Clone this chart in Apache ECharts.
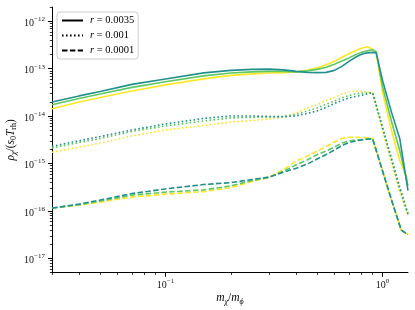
<!DOCTYPE html>
<html><head><meta charset="utf-8">
<script src="https://cdn.jsdelivr.net/npm/echarts@6/dist/echarts.min.js"></script>
<style>html,body{margin:0;padding:0;background:#fff}#c{width:415px;height:310px}</style>
</head><body><div id="c"></div>
<script>
// ---- data ----
const xSolid  = [0.03,0.04,0.05,0.07,0.1,0.15,0.2,0.25,0.3,0.35,0.4,0.45,0.5,0.55,0.6,0.65,0.7,0.75,0.8,0.85,0.9,0.935,1.0,1.1,1.2,1.31];
const solidYellow = [1.43e-14,1.99e-14,2.48e-14,3.40e-14,4.56e-14,6.10e-14,7.23e-14,7.78e-14,8.09e-14,8.25e-14,8.58e-14,9.22e-14,1.04e-13,1.21e-13,1.43e-13,1.74e-13,2.06e-13,2.38e-13,2.69e-13,2.89e-13,2.56e-13,2.16e-13,3.16e-14,4.98e-15,1.16e-15,4.38e-16];
const solidGreen  = [1.74e-14,2.36e-14,2.94e-14,4.04e-14,5.32e-14,7.06e-14,8.09e-14,8.58e-14,8.78e-14,8.78e-14,8.58e-14,9.00e-14,9.68e-14,1.07e-13,1.24e-13,1.46e-13,1.69e-13,1.96e-13,2.21e-13,2.38e-13,2.50e-13,2.27e-13,4.24e-14,7.72e-15,1.88e-15,3.43e-16];
const solidTeal   = [1.99e-14,2.67e-14,3.32e-14,4.67e-14,6.07e-14,8.17e-14,9.22e-14,9.68e-14,9.78e-14,9.45e-14,8.78e-14,8.37e-14,8.25e-14,8.37e-14,9.22e-14,1.12e-13,1.43e-13,1.74e-13,2.01e-13,2.16e-13,2.21e-13,2.16e-13,5.67e-14,1.20e-14,3.38e-15,2.69e-16];

const xDotted = [0.03,0.04,0.05,0.07,0.1,0.15,0.2,0.25,0.3,0.35,0.4,0.45,0.5,0.55,0.6,0.65,0.7,0.75,0.8,0.85,0.9,1.0,1.1,1.2,1.31];
const dottedYellow = [1.73e-15,2.23e-15,2.71e-15,3.81e-15,5.11e-15,6.36e-15,7.53e-15,8.10e-15,8.72e-15,9.61e-15,1.17e-14,1.49e-14,1.77e-14,2.14e-14,2.48e-14,2.94e-14,3.24e-14,3.35e-14,3.32e-14,3.24e-14,3.09e-14,4.75e-15,1.00e-15,2.56e-16,7.98e-17];
const dottedGreen  = [2.13e-15,2.78e-15,3.38e-15,4.75e-15,6.20e-15,7.91e-15,9.15e-15,9.38e-15,9.61e-15,9.84e-15,1.09e-14,1.29e-14,1.49e-14,1.77e-14,2.09e-14,2.42e-14,2.73e-14,2.94e-14,3.06e-14,3.09e-14,3.09e-14,5.49e-15,1.16e-15,2.83e-16,8.38e-17];
const dottedTeal   = [2.31e-15,3.03e-15,3.72e-15,5.11e-15,6.84e-15,8.93e-15,1.01e-14,1.01e-14,9.84e-15,9.70e-15,1.01e-14,1.14e-14,1.29e-14,1.53e-14,1.85e-14,2.14e-14,2.42e-14,2.60e-14,2.73e-14,2.94e-14,3.16e-14,5.85e-15,1.28e-15,3.19e-16,8.80e-17];

const xDashed = [0.03,0.04,0.05,0.07,0.1,0.15,0.2,0.25,0.3,0.35,0.4,0.45,0.5,0.55,0.6,0.65,0.7,0.75,0.8,0.85,0.9,1.0,1.1,1.22,1.31];
const dashedYellow = [1.15e-16,1.33e-16,1.54e-16,1.96e-16,2.27e-16,2.56e-16,3.12e-16,4.17e-16,5.19e-16,7.48e-16,1.13e-15,1.44e-15,1.84e-15,2.29e-15,2.85e-15,3.38e-15,3.60e-15,3.60e-15,3.55e-15,3.49e-15,3.43e-15,6.98e-16,1.70e-16,3.94e-17,3.17e-17];
const dashedGreen  = [1.15e-16,1.36e-16,1.62e-16,2.16e-16,2.50e-16,2.79e-16,3.38e-16,4.38e-16,5.07e-16,6.95e-16,9.40e-16,1.19e-15,1.55e-15,1.84e-15,2.23e-15,2.71e-15,2.99e-15,3.14e-15,3.22e-15,3.30e-15,3.33e-15,6.98e-16,1.70e-16,3.94e-17,3.17e-17];
const dashedTeal   = [1.15e-16,1.40e-16,1.70e-16,2.33e-16,2.92e-16,3.61e-16,3.97e-16,4.60e-16,5.19e-16,6.62e-16,7.96e-16,9.77e-16,1.25e-15,1.55e-15,1.93e-15,2.40e-15,2.78e-15,2.99e-15,3.14e-15,3.25e-15,3.33e-15,6.98e-16,1.70e-16,3.94e-17,3.17e-17];

const legendLabels = ['r = 0.0035', 'r = 0.001', 'r = 0.0001'];
const xMajorTicks = [0.1, 1];
const yMajorTicks = [1e-17, 1e-16, 1e-15, 1e-14, 1e-13, 1e-12];
const xRange = [0.03, 1.31];
const yRange = [5e-18, 2e-12];

// ---- styles ----
const colYellow = '#fde725', colGreen = '#5ec962', colTeal = '#21918c';
const SERIF = 'Liberation Serif';
const dashPat = [5.5, 2.4];
const dotPat = [1.6, 2.4];
const LW = 1.6;

const L = Math.log10;
const xMin = L(xRange[0]), xMax = L(xRange[1]);
const yMin = L(yRange[0]), yMax = L(yRange[1]);

function minorTicks(lo, hi) {
  const out = [];
  for (let n = Math.floor(lo) - 1; n <= Math.ceil(hi); n++) {
    for (let k = 2; k <= 9; k++) {
      const v = n + L(k);
      if (v >= lo - 1e-9 && v <= hi + 1e-9) out.push(v);
    }
  }
  return out;
}

const labelRich = {
  b: {fontFamily: SERIF, fontSize: 10, lineHeight: 11, padding: [4, 0, 0, 0], color: '#111'},
  s: {fontFamily: SERIF, fontSize: 7, lineHeight: 8, verticalAlign: 'top', color: '#111'}
};
function powLabel(v) {
  const e = Math.round(v);
  const es = e < 0 ? '\u2212' + (-e) : String(e);
  return '{b|10}{s|' + es + '}';
}

function mk(name, xs, ys, color, type, z) {
  return {
    type: 'line', name: name, silent: true, z: z,
    data: xs.map((x, i) => [L(x), L(ys[i])]),
    showSymbol: false, symbol: 'none',
    lineStyle: {color: color, width: LW, type: type},
    itemStyle: {color: color},
    clip: true
  };
}

const series = [
  mk('sy', xSolid, solidYellow, colYellow, 'solid', 2),
  mk('sg', xSolid, solidGreen, colGreen, 'solid', 3),
  mk('st', xSolid, solidTeal, colTeal, 'solid', 4),
  mk('oy', xDotted, dottedYellow, colYellow, dotPat, 2),
  mk('og', xDotted, dottedGreen, colGreen, dotPat, 3),
  mk('ot', xDotted, dottedTeal, colTeal, dotPat, 4),
  mk('dy', xDashed, dashedYellow, colYellow, dashPat, 2),
  mk('dg', xDashed, dashedGreen, colGreen, dashPat, 3),
  mk('dt', xDashed, dashedTeal, colTeal, dashPat, 4)
];
const legendTypes = ['solid', dotPat, dashPat];
legendLabels.forEach((nm, i) => series.push({
  type: 'line', name: nm, data: [], symbol: 'none',
  lineStyle: {color: '#000', width: 2, type: legendTypes[i]},
  itemStyle: {color: '#000', opacity: 0}
}));

const axisCol = '#000';
const gridBox = {left: 52, top: 7, right: 7, bottom: 37.3, containLabel: false, outerBoundsMode: 'none'};
const nameRich = {
  i: {fontFamily: SERIF, fontStyle: 'italic', fontSize: 11.5, lineHeight: 12, padding: [0, 0, 3, 0], color: '#000'},
  n: {fontFamily: SERIF, fontSize: 11.5, lineHeight: 12, padding: [0, 0, 3, 0], color: '#000'},
  sub: {fontFamily: SERIF, fontStyle: 'italic', fontSize: 8, lineHeight: 9, verticalAlign: 'bottom', color: '#000'},
  subr: {fontFamily: SERIF, fontSize: 8, lineHeight: 9, verticalAlign: 'bottom', color: '#000'}
};

const chart = echarts.init(document.getElementById('c'), null, {renderer: 'canvas'});
chart.setOption({
  animation: false,
  backgroundColor: '#fff',
  grid: [Object.assign({}, gridBox), Object.assign({}, gridBox)],
  legend: {
    show: true, orient: 'vertical', left: 57, top: 12,
    data: legendLabels,
    itemWidth: 21, itemHeight: 10, itemGap: 4,
    padding: [3, 4, 3, 4],
    backgroundColor: 'rgba(255,255,255,0.8)', borderColor: '#cccccc', borderWidth: 1, borderRadius: 3,
    selectedMode: false,
    itemStyle: {opacity: 0},
    formatter: n => '{i|r}{t|' + n.slice(1) + '}',
    textStyle: {
      fontFamily: SERIF, fontSize: 10, color: '#000', padding: [0, 0, 0, 2],
      rich: {
        i: {fontFamily: SERIF, fontStyle: 'italic', fontSize: 10.5, color: '#000'},
        t: {fontFamily: SERIF, fontSize: 10.5, color: '#000'}
      }
    }
  },
  xAxis: [
    {
      gridIndex: 0, type: 'value', min: xMin, max: xMax, position: 'bottom',
      axisLine: {show: true, onZero: false, lineStyle: {color: axisCol, width: 1}},
      axisTick: {show: true, customValues: xMajorTicks.map(L), length: 4, lineStyle: {color: axisCol, width: 1}},
      axisLabel: {show: true, customValues: xMajorTicks.map(L), formatter: powLabel, rich: labelRich, margin: 5},
      splitLine: {show: false},
      name: '{i|m}{sub|\u03C7}{n|/}{i|m}{sub|\u03D5}',
      nameLocation: 'middle', nameGap: 21, nameMoveOverlap: false,
      nameTextStyle: {rich: nameRich}
    },
    {
      gridIndex: 1, type: 'value', min: xMin, max: xMax, position: 'bottom',
      axisLine: {show: false, onZero: false},
      axisTick: {show: true, customValues: minorTicks(xMin, xMax), length: 2.2, lineStyle: {color: axisCol, width: 0.8}},
      axisLabel: {show: false},
      splitLine: {show: false}
    }
  ],
  yAxis: [
    {
      gridIndex: 0, type: 'value', min: yMin, max: yMax, position: 'left',
      axisLine: {show: true, onZero: false, lineStyle: {color: axisCol, width: 1}},
      axisTick: {show: true, customValues: yMajorTicks.map(L), length: 4, lineStyle: {color: axisCol, width: 1}},
      axisLabel: {show: true, customValues: yMajorTicks.map(L), formatter: powLabel, rich: labelRich, margin: 7},
      splitLine: {show: false},
      name: '{i|\u03C1}{sub|\u03C7}{n|/(}{i|s}{subr|0}{i|T}{subr|rh}{n|)}',
      nameLocation: 'middle', nameGap: 34, nameRotate: 90, nameMoveOverlap: false,
      nameTextStyle: {rich: nameRich}
    },
    {
      gridIndex: 1, type: 'value', min: yMin, max: yMax, position: 'left',
      axisLine: {show: false, onZero: false},
      axisTick: {show: true, customValues: minorTicks(yMin, yMax), length: 2.2, lineStyle: {color: axisCol, width: 0.8}},
      axisLabel: {show: false},
      splitLine: {show: false}
    }
  ],
  series: series
});
</script></body></html>
